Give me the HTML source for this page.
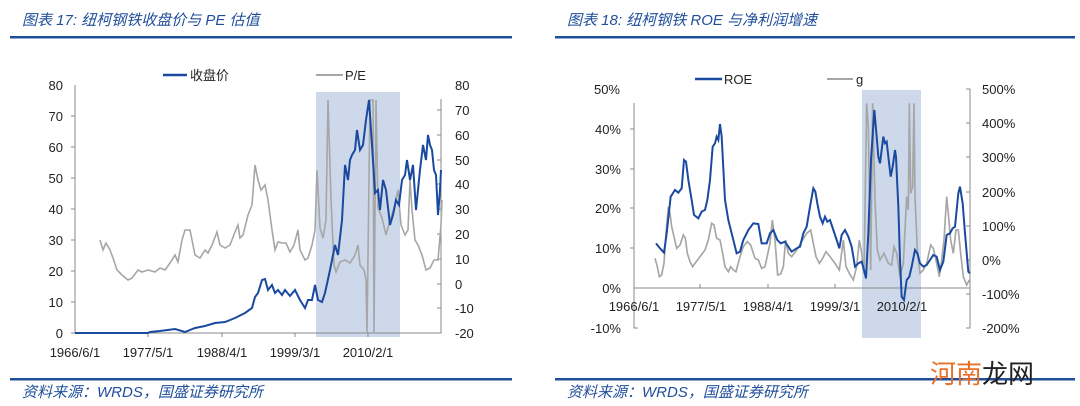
<!DOCTYPE html>
<html><head><meta charset="utf-8"><style>
html,body{margin:0;padding:0;background:#fff;}
svg{display:block;font-family:"Liberation Sans","Noto Sans CJK SC",sans-serif;}
.t{font-style:italic;fill:#1f4e9a;font-size:15px;}
.a{font-size:13px;fill:#222;}
</style></head><body>
<svg width="1080" height="406" viewBox="0 0 1080 406" xmlns="http://www.w3.org/2000/svg">
<!-- Left header/footer -->
<text class="t" x="22" y="25">图表 17:  纽柯钢铁收盘价与 PE 估值</text>
<rect x="10" y="36" width="502" height="2.5" fill="#1f4e9a"/>
<rect x="10" y="378" width="502" height="2.5" fill="#1f4e9a"/>
<text class="t" x="22" y="397" font-size="14">资料来源：WRDS，国盛证券研究所</text>
<!-- Right header/footer -->
<text class="t" x="567" y="25">图表 18:  纽柯钢铁 ROE 与净利润增速</text>
<rect x="555" y="36" width="520" height="2.5" fill="#1f4e9a"/>
<rect x="555" y="378" width="520" height="2.5" fill="#1f4e9a"/>
<text class="t" x="567" y="397" font-size="14">资料来源：WRDS，国盛证券研究所</text>
<text x="930" y="383" font-size="26" fill="#e8702a" font-family="'Noto Sans CJK SC',sans-serif">河南</text><text x="982" y="383" font-size="26" fill="#222" font-family="'Noto Sans CJK SC',sans-serif">龙网</text>

<!-- LEFT CHART -->
<rect x="316" y="92" width="84" height="245" fill="#cdd8ea"/>
<g stroke="#888" stroke-width="1" fill="none">
<path d="M75 85V333H441V99"/>
<path d="M71 116H75M71 147H75M71 178H75M71 209H75M71 240H75M71 271H75M71 302H75M71 333H75"/>
<path d="M148 333v4M222 333v4M295 333v4M368 333v4"/>
<path d="M437 110h4M437 135h4M437 160h4M437 184h4M437 209h4M437 234h4M437 259h4M437 284h4M437 308h4"/>
</g>
<g class="a" text-anchor="end">
<text x="63" y="90">80</text><text x="63" y="121">70</text><text x="63" y="152">60</text><text x="63" y="183">50</text><text x="63" y="214">40</text><text x="63" y="245">30</text><text x="63" y="276">20</text><text x="63" y="307">10</text><text x="63" y="338">0</text>
</g>
<g class="a">
<text x="455" y="90">80</text><text x="455" y="115">70</text><text x="455" y="140">60</text><text x="455" y="165">50</text><text x="455" y="189">40</text><text x="455" y="214">30</text><text x="455" y="239">20</text><text x="455" y="264">10</text><text x="455" y="289">0</text><text x="455" y="313">-10</text><text x="455" y="338">-20</text>
</g>
<g class="a" text-anchor="middle">
<text x="75" y="357">1966/6/1</text><text x="148" y="357">1977/5/1</text><text x="222" y="357">1988/4/1</text><text x="295" y="357">1999/3/1</text><text x="368" y="357">2010/2/1</text>
</g>
<polyline fill="none" stroke="#a6a6a6" stroke-width="1.6" points="100,240 103,250 106,243 110,250 113,258 117,270 122,275 128,280 132,278 138,270 142,272 148,270 155,272 160,268 165,270 170,263 175,255 178,262 182,240 185,230 190,230 195,255 200,258 205,250 208,253 212,245 217,232 220,245 225,248 230,245 235,232 238,225 240,238 243,235 248,215 252,205 255,165 258,180 261,190 265,185 268,200 272,230 275,250 278,242 282,243 286,243 290,252 294,245 298,230 300,250 305,260 308,258 312,245 315,230 317,170 320,228 323,238 326,220 328,100 331,200 334,265 336,272 340,262 345,260 350,263 355,255 358,245 360,265 364,270 366,280 367,333 370,100 373,100 374,333 376,100 378,208 382,218 386,235 390,220 394,208 398,190 401,225 405,235 408,230 410,180 412,210 415,240 418,245 422,255 426,270 430,268 434,260 438,260 441,225 442,200"/>
<polyline fill="none" stroke="#1a4aa0" stroke-width="2" points="75,333 148,333 150,332 160,331 175,329 185,332 195,328 205,326 215,323 225,322 235,318 245,313 252,308 255,297 258,293 262,280 265,279 268,290 272,285 275,293 278,290 282,295 285,290 290,296 295,290 300,300 305,308 308,300 312,300 315,285 318,300 322,302 325,293 330,270 335,245 338,255 342,220 345,165 348,180 350,160 352,155 355,150 357,130 360,150 363,145 366,120 369,100 372,145 375,193 378,190 380,210 383,180 386,190 390,225 393,215 396,200 399,205 402,180 405,175 407,160 410,180 413,165 416,210 418,190 420,170 423,145 426,160 428,135 430,145 432,150 434,170 436,175 438,215 440,190 441,170"/>
<line x1="163" y1="75" x2="187" y2="75" stroke="#1a4aa0" stroke-width="2.5"/>
<text class="a" x="190" y="80">收盘价</text>
<line x1="316" y1="75" x2="343" y2="75" stroke="#a6a6a6" stroke-width="2"/>
<text class="a" x="345" y="80">P/E</text>

<!-- RIGHT CHART -->
<rect x="862" y="90" width="59" height="248" fill="#cdd8ea"/>
<g stroke="#888" stroke-width="1" fill="none">
<path d="M634 103V328h4M630 129h4M630 169h4M630 208h4M630 248h4"/>
<path d="M634 288H970M700 288v-4M768 288v-4M835 288v-4"/>
<path d="M966 89h4V328h-4M966 123h4M966 157h4M966 192h4M966 226h4M966 260h4M966 294h4"/>
</g>
<g class="a" text-anchor="end">
<text x="620" y="94">50%</text><text x="621" y="134">40%</text><text x="621" y="174">30%</text><text x="621" y="213">20%</text><text x="621" y="253">10%</text><text x="621" y="293">0%</text><text x="621" y="333">-10%</text>
</g>
<g class="a">
<text x="982" y="94">500%</text><text x="982" y="128">400%</text><text x="982" y="162">300%</text><text x="982" y="197">200%</text><text x="982" y="231">100%</text><text x="982" y="265">0%</text><text x="982" y="299">-100%</text><text x="982" y="333">-200%</text>
</g>
<g class="a" text-anchor="middle">
<text x="634" y="311">1966/6/1</text><text x="701" y="311">1977/5/1</text><text x="768" y="311">1988/4/1</text><text x="835" y="311">1999/3/1</text><text x="902" y="311">2010/2/1</text>
</g>
<g transform="translate(540,0) scale(0.33333)">
<polyline fill="none" stroke="#a6a6a6" stroke-width="5" points="345,775 352,800 358,830 365,825 372,790 378,700 385,620 390,640 395,680 402,710 410,745 420,735 430,705 436,715 442,760 450,785 458,800 465,790 480,770 495,750 505,720 515,670 522,675 530,715 540,720 548,760 555,800 565,815 572,800 580,810 588,815 600,770 610,740 622,725 632,735 645,775 655,780 665,805 675,800 690,730 697,660 705,720 713,825 722,822 730,800 737,720 745,760 755,770 770,750 785,725 800,700 812,690 820,730 828,770 838,790 848,775 858,755 870,770 885,790 898,810 910,720 918,800 928,820 940,840 950,800 958,720 965,760 972,820 980,310 985,380 992,810 998,310 1005,600 1012,750 1020,780 1032,760 1045,790 1055,795 1062,740 1070,760 1080,830 1090,790 1100,590 1105,630 1108,310 1112,580 1118,560 1122,310 1125,590 1132,750 1140,820 1150,810 1160,790 1172,735 1180,745 1190,790 1198,830 1205,780 1212,720 1220,590 1225,640 1232,720 1240,760 1248,690 1255,690 1262,760 1270,830 1280,855 1288,840"/>
<polyline fill="none" stroke="#1a4aa0" stroke-width="6" points="348,730 360,745 372,758 380,700 392,590 405,570 415,578 425,565 432,480 438,485 445,540 455,600 462,645 475,655 485,635 495,630 502,600 510,540 518,440 525,430 530,410 535,420 540,372 545,410 555,600 565,660 575,700 590,760 600,755 610,720 625,690 640,670 655,672 665,730 680,730 690,700 700,690 712,720 722,730 735,725 745,740 755,755 770,745 780,740 790,700 800,680 810,620 820,565 826,575 832,610 840,650 848,670 855,650 862,665 870,660 880,690 890,720 898,745 905,705 915,690 925,710 935,740 945,800 955,790 965,785 972,810 978,835 985,700 993,480 1003,330 1010,410 1015,470 1020,490 1030,410 1035,430 1040,425 1045,470 1052,530 1058,500 1065,450 1068,470 1075,620 1080,780 1085,890 1092,900 1100,840 1108,830 1115,800 1125,750 1132,760 1140,790 1150,800 1160,795 1170,780 1180,765 1190,770 1200,810 1210,785 1220,705 1230,700 1238,685 1245,680 1255,580 1260,560 1268,610 1275,700 1285,815 1290,820"/>
</g>
<line x1="695" y1="79" x2="722" y2="79" stroke="#1a4aa0" stroke-width="2.5"/>
<text class="a" x="724" y="84">ROE</text>
<line x1="827" y1="79" x2="853" y2="79" stroke="#a6a6a6" stroke-width="2"/>
<text class="a" x="856" y="84">g</text>
</svg>
</body></html>
